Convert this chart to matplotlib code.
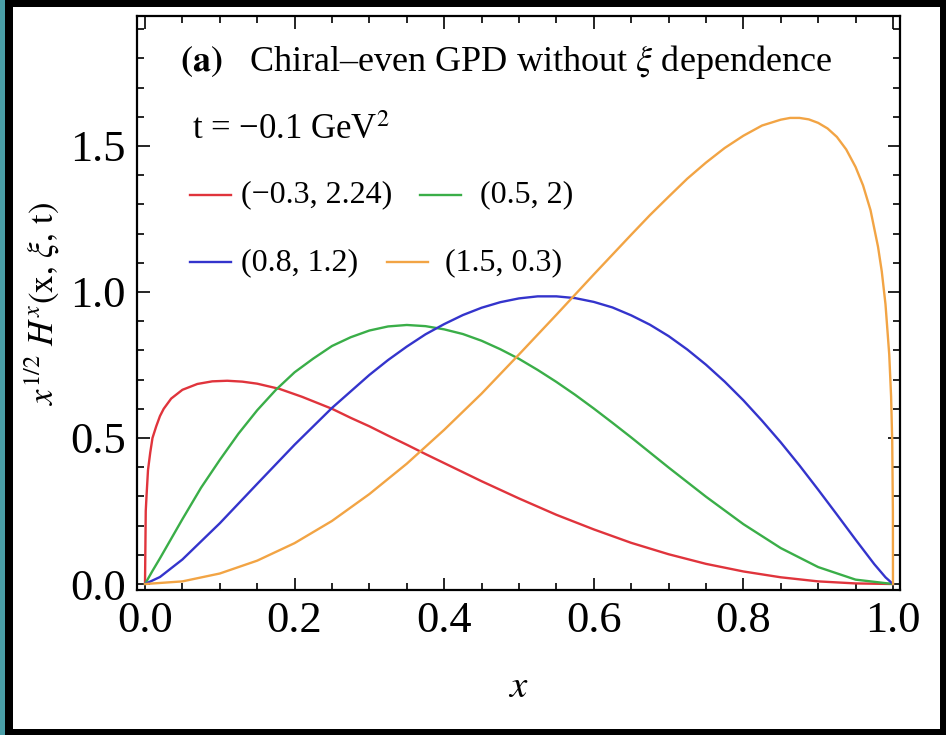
import matplotlib
matplotlib.use('Agg')
import matplotlib.pyplot as plt
from matplotlib.lines import Line2D
from matplotlib.patches import Rectangle
from matplotlib.ticker import MultipleLocator, FormatStrFormatter

plt.rcParams['font.family'] = ['Liberation Serif', 'DejaVu Serif']
plt.rcParams['mathtext.fontset'] = 'stix'

# curves: (x, x^1/2 H)
red_x = [0, 0.001, 0.002, 0.004, 0.007, 0.01, 0.015, 0.02, 0.025, 0.035, 0.05, 0.07, 0.09, 0.11, 0.13,
         0.15, 0.18, 0.21, 0.25, 0.275, 0.30, 0.325, 0.35, 0.375, 0.40, 0.45, 0.50, 0.55, 0.60, 0.65,
         0.70, 0.75, 0.80, 0.85, 0.90, 0.95, 1.0]
red_y = [0, 0.25, 0.30, 0.39, 0.45, 0.50, 0.54, 0.575, 0.60, 0.635, 0.665, 0.685, 0.694, 0.696, 0.693,
         0.686, 0.668, 0.641, 0.600, 0.569, 0.540, 0.508, 0.477, 0.445, 0.414, 0.352, 0.293, 0.237, 0.187, 0.141,
         0.102, 0.069, 0.043, 0.023, 0.009, 0.002, 0]

green_x = [0, 0.01, 0.02, 0.05, 0.075, 0.10, 0.125, 0.15, 0.175, 0.20, 0.225, 0.25, 0.275, 0.30, 0.325,
           0.35, 0.375, 0.40, 0.425, 0.45, 0.475, 0.50, 0.525, 0.55, 0.575, 0.60, 0.625, 0.65, 0.70,
           0.75, 0.80, 0.85, 0.90, 0.95, 1.0]
green_y = [0, 0.045, 0.088, 0.222, 0.330, 0.425, 0.515, 0.595, 0.665, 0.725, 0.772, 0.815, 0.845, 0.868, 0.882,
           0.887, 0.883, 0.872, 0.856, 0.833, 0.804, 0.771, 0.733, 0.692, 0.648, 0.601, 0.552, 0.502, 0.399,
           0.299, 0.205, 0.123, 0.058, 0.015, 0]

blue_x = [0, 0.02, 0.05, 0.10, 0.15, 0.20, 0.25, 0.30, 0.325, 0.35, 0.375, 0.40, 0.425, 0.45, 0.475,
          0.50, 0.525, 0.55, 0.575, 0.60, 0.625, 0.65, 0.675, 0.70, 0.725, 0.75, 0.775, 0.80, 0.825,
          0.85, 0.875, 0.90, 0.925, 0.95, 0.975, 0.99, 1.0]
blue_y = [0, 0.024, 0.084, 0.208, 0.343, 0.477, 0.603, 0.716, 0.767, 0.813, 0.855, 0.890, 0.921, 0.946, 0.965,
          0.978, 0.985, 0.985, 0.979, 0.966, 0.947, 0.920, 0.888, 0.849, 0.803, 0.751, 0.693, 0.629, 0.559,
          0.485, 0.406, 0.323, 0.238, 0.152, 0.068, 0.023, 0]

orange_x = [0, 0.05, 0.10, 0.15, 0.20, 0.25, 0.30, 0.35, 0.40, 0.45, 0.50, 0.55, 0.60, 0.625, 0.65,
            0.675, 0.70, 0.725, 0.75, 0.775, 0.80, 0.825, 0.85, 0.8625, 0.875, 0.8875, 0.90, 0.9125, 0.925,
            0.9375, 0.95, 0.96, 0.97, 0.98, 0.985, 0.99, 0.995, 0.9975, 0.999, 0.9999, 1.0]
orange_y = [0, 0.009, 0.036, 0.080, 0.140, 0.216, 0.308, 0.412, 0.528, 0.652, 0.786, 0.922, 1.060, 1.128, 1.196,
            1.263, 1.326, 1.388, 1.443, 1.493, 1.535, 1.570, 1.590, 1.596, 1.596, 1.591, 1.579, 1.560, 1.531,
            1.488, 1.428, 1.365, 1.280, 1.155, 1.071, 0.958, 0.786, 0.642, 0.489, 0.245, 0]

labels = ['(\u22120.3, 2.24)', '(0.5, 2)', '(0.8, 1.2)', '(1.5, 0.3)']
colors = ['#e0343c', '#3aae48', '#3434cc', '#f2a444']

fig = plt.figure(figsize=(9.46, 7.35), dpi=100)
fig.patch.set_facecolor('black')
# white page with teal strip on the left (kept behind the axes)
fig.patches.append(Rectangle((13 / 946, 6 / 735), 927 / 946, 722 / 735, transform=fig.transFigure,
                             facecolor='white', edgecolor='none', zorder=-10))
fig.patches.append(Rectangle((0, 0), 5 / 946, 1, transform=fig.transFigure,
                             facecolor='#4a9fa8', edgecolor='none', zorder=-10))

ax = fig.add_axes([137 / 946, 145 / 735, 763 / 946, 574 / 735])
ax.set_facecolor('white')

series = [(red_x, red_y), (green_x, green_y), (blue_x, blue_y), (orange_x, orange_y)]
for (xs, ys), c in zip(series, colors):
    ax.plot(xs, ys, color=c, lw=1.7, solid_joinstyle='round')

ax.set_xlim(-0.0107, 1.0094)
ax.set_ylim(-0.0205, 1.945)
ax.xaxis.set_major_locator(MultipleLocator(0.2))
ax.xaxis.set_minor_locator(MultipleLocator(0.05))
ax.yaxis.set_major_locator(MultipleLocator(0.5))
ax.yaxis.set_minor_locator(MultipleLocator(0.1))
ax.xaxis.set_major_formatter(FormatStrFormatter('%.1f'))
ax.yaxis.set_major_formatter(FormatStrFormatter('%.1f'))
ax.tick_params(which='both', direction='in', top=True, right=True, width=1.2)
ax.tick_params(which='major', length=9, labelsize=32, pad=8)
ax.tick_params(which='minor', length=5)
for s in ax.spines.values():
    s.set_linewidth(1.6)

ax.set_xlabel('$x$', fontsize=28, labelpad=20)
ax.set_ylabel(r'$x^{1/2}\ H^{x}(\mathrm{x},\,\xi,\,\mathrm{t})$', fontsize=25, labelpad=6)

ax.text(0.057, 0.92, r'$\mathbf{(a)}$' + '   Chiral\u2013even GPD without ' + r'$\xi$' + ' dependence',
        transform=ax.transAxes, fontsize=26, va='center', ha='left')
ax.text(0.072, 0.80, 't = \u22120.1 GeV$^2$', transform=ax.transAxes, fontsize=25, va='center', ha='left')

# hand placed legend, two rows
rows = [0.688, 0.688, 0.571, 0.571]
line_x0 = [0.069, 0.371, 0.069, 0.328]
text_x0 = [0.136, 0.450, 0.136, 0.404]
for lab, c, ry, lx, tx in zip(labels, colors, rows, line_x0, text_x0):
    ax.add_line(Line2D([lx, lx + 0.054], [ry, ry], transform=ax.transAxes, color=c, lw=1.7))
    ax.text(tx, ry, lab, transform=ax.transAxes, fontsize=23, va='center', ha='left')

fig.savefig('out.png', dpi=100, facecolor=fig.get_facecolor())
